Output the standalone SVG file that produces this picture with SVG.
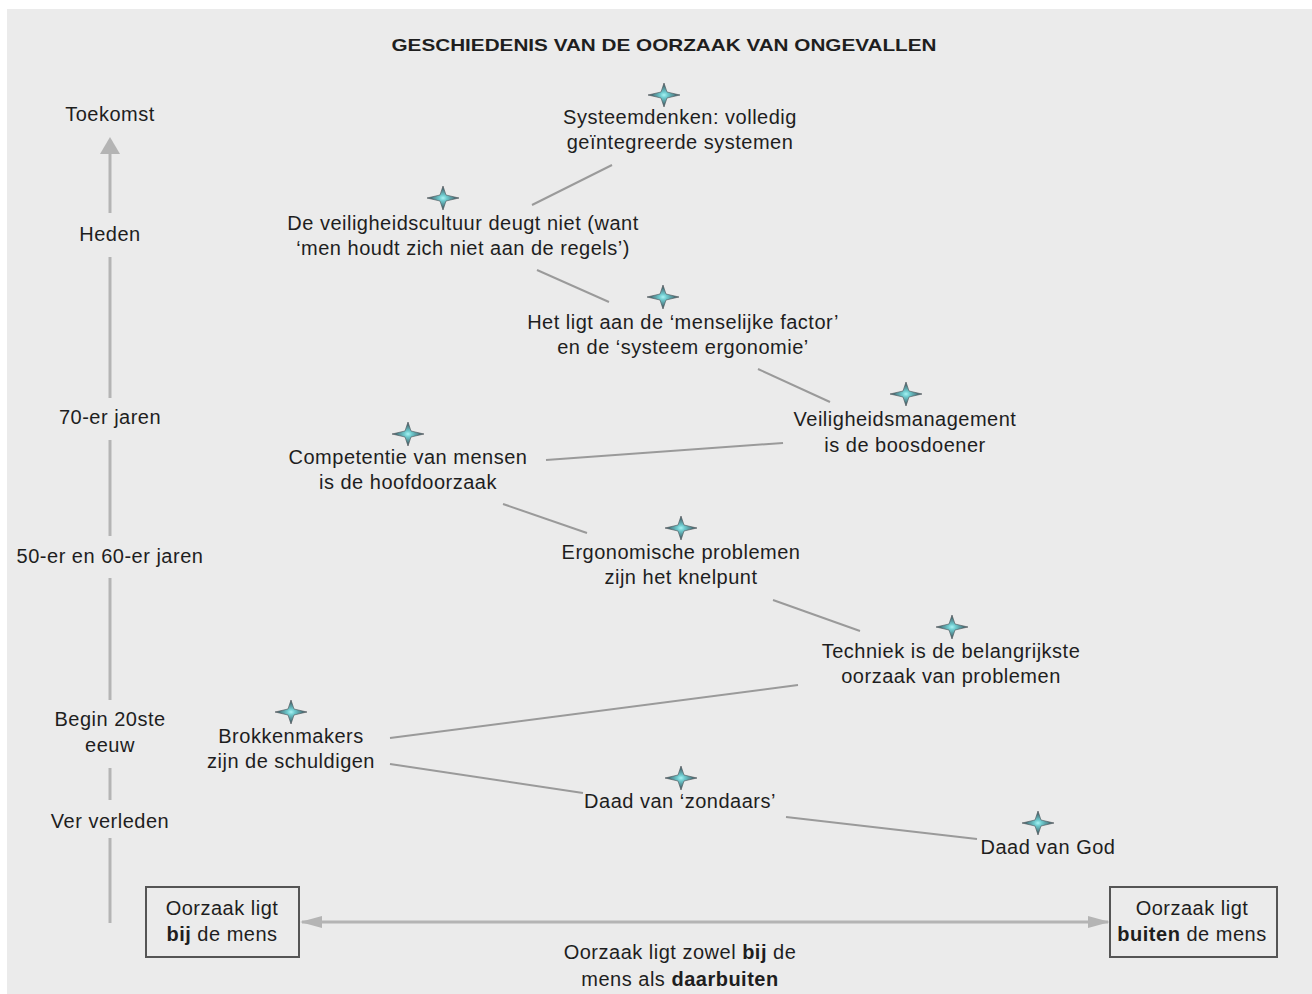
<svg xmlns="http://www.w3.org/2000/svg" width="1312" height="994" viewBox="0 0 1312 994">
<style>
text{font-family:"Liberation Sans",Arial,sans-serif;font-size:20px;letter-spacing:0.5px;fill:#1e1e1e;text-anchor:middle}
.b{font-weight:bold}
.title{font-size:17px;font-weight:bold;letter-spacing:0}
.con line{stroke:#9a9a9a;stroke-width:2}
.axis{stroke:#b4b4b4;stroke-width:3;fill:none}
.box{fill:none;stroke:#555;stroke-width:2}
</style>
<defs>
<radialGradient id="sg" cx="0.5" cy="0.5" r="0.5">
<stop offset="0" stop-color="#a8f4f4"/>
<stop offset="0.25" stop-color="#6cc8cc"/>
<stop offset="1" stop-color="#3b4750"/>
</radialGradient>
<symbol id="star" viewBox="-17 -13 34 26" width="34" height="26" overflow="visible">
<path d="M0,-12 L3,-3 L16,0 L3,3 L0,12 L-3,3 L-16,0 L-3,-3 Z" fill="url(#sg)" stroke="#4a5258" stroke-width="0.6"/>
</symbol>
<marker id="ah" viewBox="0 0 22 12" refX="20" refY="6" markerWidth="22" markerHeight="12" markerUnits="userSpaceOnUse" orient="auto-start-reverse">
<path d="M0,0 L22,6 L0,12 Z" fill="#b4b4b4"/>
</marker>
</defs>
<rect x="7" y="9" width="1305" height="985" fill="#ebebeb"/>
<text class="title" x="664" y="51" textLength="545" lengthAdjust="spacingAndGlyphs">GESCHIEDENIS VAN DE OORZAAK VAN ONGEVALLEN</text>

<g id="axis">
<line class="axis" x1="110" y1="923" x2="110" y2="838"/>
<line class="axis" x1="110" y1="800" x2="110" y2="768"/>
<line class="axis" x1="110" y1="700" x2="110" y2="578"/>
<line class="axis" x1="110" y1="536" x2="110" y2="440"/>
<line class="axis" x1="110" y1="398" x2="110" y2="257"/>
<line class="axis" x1="110" y1="213" x2="110" y2="150"/>
<path d="M100,154 L110,137 L120,154 Z" fill="#b4b4b4"/>
<text x="110" y="121">Toekomst</text>
<text x="110" y="241">Heden</text>
<text x="110" y="424">70-er jaren</text>
<text x="110" y="563">50-er en 60-er jaren</text>
<text x="110" y="726">Begin 20ste</text>
<text x="110" y="752">eeuw</text>
<text x="110" y="828">Ver verleden</text>
</g>

<g class="con" id="connectors">
<line x1="532" y1="205" x2="612" y2="165"/>
<line x1="537" y1="270" x2="609" y2="302"/>
<line x1="758" y1="369" x2="830" y2="402"/>
<line x1="546" y1="460" x2="783" y2="443"/>
<line x1="503" y1="504" x2="587" y2="533"/>
<line x1="773" y1="600" x2="860" y2="631"/>
<line x1="390" y1="738" x2="798" y2="685"/>
<line x1="390" y1="764" x2="583" y2="793"/>
<line x1="786" y1="817" x2="977" y2="839"/>
<line x1="302" y1="922" x2="1108" y2="922" style="stroke:#b4b4b4;stroke-width:3" marker-start="url(#ah)" marker-end="url(#ah)"/>
</g>

<g id="n1"><use href="#star" x="647" y="82"/>
<text x="680" y="124">Systeemdenken: volledig</text>
<text x="680" y="149">geïntegreerde systemen</text></g>
<g id="n2"><use href="#star" x="426" y="185"/>
<text x="463" y="230">De veiligheidscultuur deugt niet (want</text>
<text x="463" y="255">‘men houdt zich niet aan de regels’)</text></g>
<g id="n3"><use href="#star" x="646" y="284"/>
<text x="683" y="329">Het ligt aan de ‘menselijke factor’</text>
<text x="683" y="354">en de ‘systeem ergonomie’</text></g>
<g id="n4"><use href="#star" x="889" y="381"/>
<text x="905" y="426">Veiligheidsmanagement</text>
<text x="905" y="452">is de boosdoener</text></g>
<g id="n5"><use href="#star" x="391" y="421"/>
<text x="408" y="464">Competentie van mensen</text>
<text x="408" y="489">is de hoofdoorzaak</text></g>
<g id="n6"><use href="#star" x="664" y="515"/>
<text x="681" y="559">Ergonomische problemen</text>
<text x="681" y="584">zijn het knelpunt</text></g>
<g id="n7"><use href="#star" x="935" y="614"/>
<text x="951" y="658">Techniek is de belangrijkste</text>
<text x="951" y="683">oorzaak van problemen</text></g>
<g id="n8"><use href="#star" x="274" y="699"/>
<text x="291" y="743">Brokkenmakers</text>
<text x="291" y="768">zijn de schuldigen</text></g>
<g id="n9"><use href="#star" x="664" y="765"/>
<text x="680" y="808">Daad van ‘zondaars’</text></g>
<g id="n10"><use href="#star" x="1021" y="810"/>
<text x="1048" y="854">Daad van God</text></g>

<g id="boxL"><rect class="box" x="146" y="887" width="153" height="70"/>
<text x="222" y="915">Oorzaak ligt</text>
<text x="222" y="941"><tspan class="b">bij</tspan> de mens</text></g>
<g id="boxR"><rect class="box" x="1110" y="887" width="167" height="70"/>
<text x="1192" y="915">Oorzaak ligt</text>
<text x="1192" y="941"><tspan class="b">buiten</tspan> de mens</text></g>
<g id="bottom">
<text x="680" y="959">Oorzaak ligt zowel <tspan class="b">bij</tspan> de</text>
<text x="680" y="986">mens als <tspan class="b">daarbuiten</tspan></text></g>
</svg>
